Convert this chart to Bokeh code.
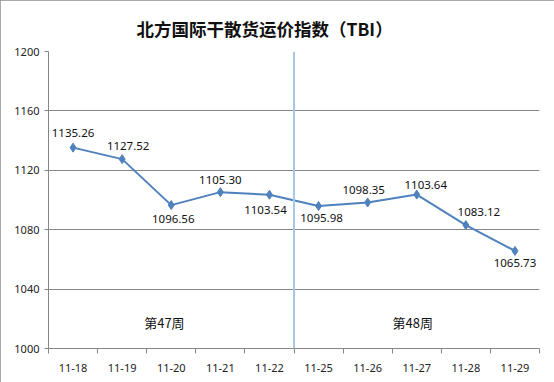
from bokeh.plotting import figure
from bokeh.models import FixedTicker, Span, ColumnDataSource, Label
from bokeh.core.properties import value
from bokeh.embed import file_html
from bokeh.resources import INLINE

dates = ["11-18", "11-19", "11-20", "11-21", "11-22", "11-25", "11-26", "11-27", "11-28", "11-29"]
tbi = [1135.26, 1127.52, 1096.56, 1105.30, 1103.54, 1095.98, 1098.35, 1103.64, 1083.12, 1065.73]
weeks = ["第47周", "第48周"]
y_ticks = [1000, 1040, 1080, 1120, 1160, 1200]

# label placement styles (screen pixels; negative dy = above)
label_dx = [0, 6, 2, 0, -4, 3, -4, 9, 13, 0]
label_dy = [-15, -13, 14, -12, 15, 12, -12, -10, -13, 12]

xs = [i + 0.5 for i in range(len(dates))]
src = ColumnDataSource(dict(x=xs, y=tbi, txt=[f"{v:.2f}" for v in tbi], dx=label_dx, dy=label_dy))

p = figure(width=554, height=382, output_backend="svg", toolbar_location=None,
           x_range=(0, len(dates)), y_range=(y_ticks[0], y_ticks[-1]),
           min_border_left=48, min_border_right=15, min_border_top=51, min_border_bottom=34)
p.styles = {"outline": "1px solid #8C8C8C", "outline-offset": "-1px"}

p.title.text = "北方国际干散货运价指数（TBI）"
p.title.text_font = "Noto Sans CJK SC"
p.title.text_font_size = "17.5px"
p.title.text_font_style = "bold"
p.title.text_color = "#111111"
p.title.align = "left"
p.title.offset = 88
p.title.standoff = 22

p.outline_line_color = None
p.background_fill_color = "white"
p.border_fill_color = "white"

grid_col = "#868686"
p.xgrid.visible = False
p.ygrid.ticker = FixedTicker(ticks=y_ticks)
p.ygrid.grid_line_color = grid_col

p.yaxis.ticker = FixedTicker(ticks=y_ticks, minor_ticks=[])
p.yaxis.axis_line_color = grid_col
p.yaxis.major_tick_line_color = grid_col
p.yaxis.major_tick_out = 4
p.yaxis.major_tick_in = 0
p.yaxis.major_label_text_font = "Noto Sans"
p.yaxis.major_label_text_font_size = "11px"
p.yaxis.major_label_text_color = "#222222"
p.yaxis.major_label_standoff = 5

p.xaxis.ticker = FixedTicker(ticks=xs, minor_ticks=list(range(len(dates) + 1)))
p.xaxis.major_label_overrides = {x: d for x, d in zip(xs, dates)}
p.xaxis.axis_line_color = grid_col
p.xaxis.major_tick_out = 0
p.xaxis.major_tick_in = 0
p.xaxis.minor_tick_out = 5
p.xaxis.minor_tick_in = 0
p.xaxis.minor_tick_line_color = grid_col
p.xaxis.major_label_text_font = "Noto Sans"
p.xaxis.major_label_text_font_size = "11px"
p.xaxis.major_label_text_color = "#222222"
p.xaxis.major_label_standoff = 10

p.add_layout(Span(location=5, dimension="height", line_color="#A9C8E8", line_width=2))

line_col = "#4F81BD"
p.line("x", "y", source=src, line_color=line_col, line_width=2)
p.scatter("x", "y", source=src, marker="diamond", size=9, fill_color=line_col, line_color=line_col)

p.text("x", "y", text="txt", source=src, x_offset="dx", y_offset="dy",
       text_align="center", text_baseline="middle", text_font=value("Noto Sans"),
       text_font_size="11.5px", text_color="#111111")

week_x = [2.36, 7.42]
for wx, wt in zip(week_x, weeks):
    p.add_layout(Label(x=wx, y=1017.5, text=wt, text_align="center", text_baseline="middle",
                       text_font="Noto Sans CJK SC", text_font_size="13px", text_color="#111111"))

open("out.html", "w").write(file_html(p, INLINE))
